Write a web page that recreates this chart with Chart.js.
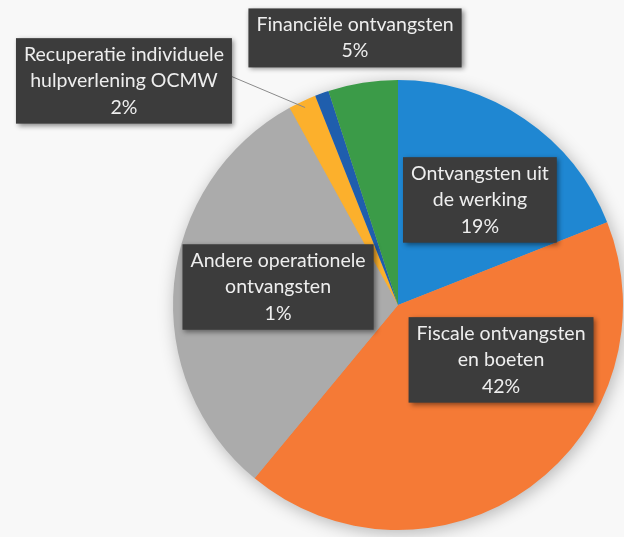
<!DOCTYPE html>
<html>
<head>
<meta charset="utf-8">
<script src="https://cdn.jsdelivr.net/npm/chart.js@4"></script>
<style>
  html, body { margin: 0; padding: 0; background: #f8f8f8; }
  #wrap { width: 624px; height: 537px; }
</style>
</head>
<body>
<div id="wrap"><canvas id="pieChart" width="624" height="537"></canvas></div>
<script>
// Data
const categories = [
    'Ontvangsten uit de werking',
    'Fiscale ontvangsten en boeten',
    '',
    'Recuperatie individuele hulpverlening OCMW',
    'Andere operationele ontvangsten',
    'Financiële ontvangsten'
];
const shares = [19, 42, 31, 2, 1, 5];
const sliceColors = ['#1f87d2', '#f57a36', '#ababab', '#fcb02c', '#1f5ead', '#3b9b48'];

// Label boxes: text lines, box centre relative to pie centre (in radius units)
const labelLines = [
    ['Ontvangsten uit', 'de werking', '19%'],
    ['Fiscale ontvangsten', 'en boeten', '42%'],
    null,
    ['Recuperatie individuele', 'hulpverlening OCMW', '2%'],
    ['Andere operationele', 'ontvangsten', '1%'],
    ['Financiële ontvangsten', '5%']
];
const labelSpots = [
    { x: 0.364, y: -0.467 },
    { x: 0.458, y: 0.244 },
    null,
    { x: -1.218, y: -0.996, leader: true },
    { x: -0.533, y: -0.08 },
    { x: -0.191, y: -1.187 }
];

const FONT = '19.5px Lato, "Open Sans", sans-serif';
const LINE_H = 26.5;

// Soft shadow behind the pie
const pieShadow = {
    id: 'pieShadow',
    beforeDatasetsDraw(chart) {
        const arc = chart.getDatasetMeta(0).data[0];
        const ctx = chart.ctx;
        ctx.save();
        ctx.shadowColor = 'rgba(0,0,0,0.3)';
        ctx.shadowBlur = 18;
        ctx.shadowOffsetX = 2;
        ctx.shadowOffsetY = 3;
        ctx.fillStyle = '#aaaaaa';
        ctx.beginPath();
        ctx.arc(arc.x, arc.y, arc.outerRadius - 1, 0, Math.PI * 2);
        ctx.fill();
        ctx.restore();
    }
};

// Dark callout boxes
const calloutLabels = {
    id: 'calloutLabels',
    afterDatasetsDraw(chart) {
        const meta = chart.getDatasetMeta(0);
        const ctx = chart.ctx;
        meta.data.forEach((arc, i) => {
            const lines = labelLines[i];
            const spot = labelSpots[i];
            if (!lines) return;
            const r = arc.outerRadius;
            const cx = arc.x + spot.x * r;
            const cy = arc.y + spot.y * r;
            ctx.save();
            ctx.font = FONT;
            const w = Math.max(...lines.map(t => ctx.measureText(t).width)) + 16;
            const h = lines.length * LINE_H + 6;
            const bx = cx - w / 2, by = cy - h / 2;

            if (spot.leader) {
                const mid = (arc.startAngle + arc.endAngle) / 2;
                ctx.strokeStyle = '#8a8a8a';
                ctx.lineWidth = 1;
                ctx.beginPath();
                ctx.moveTo(bx + w, by + h * 0.45);
                ctx.lineTo(arc.x + Math.cos(mid) * r * 0.97, arc.y + Math.sin(mid) * r * 0.97);
                ctx.stroke();
            }

            ctx.shadowColor = 'rgba(0,0,0,0.45)';
            ctx.shadowBlur = 5;
            ctx.shadowOffsetX = 2;
            ctx.shadowOffsetY = 2;
            ctx.fillStyle = '#3c3c3c';
            ctx.fillRect(bx, by, w, h);
            ctx.shadowColor = 'transparent';

            ctx.fillStyle = '#eeeeee';
            ctx.textAlign = 'center';
            ctx.textBaseline = 'middle';
            lines.forEach((t, k) => {
                ctx.fillText(t, cx, by + 3 + LINE_H * (k + 0.5));
            });
            ctx.restore();
        });
    }
};

function setupChart() {
    const ctx = document.getElementById('pieChart').getContext('2d');
    new Chart(ctx, {
        type: 'pie',
        data: {
            labels: categories,
            datasets: [{
                data: shares,
                backgroundColor: sliceColors,
                borderWidth: 0
            }]
        },
        options: {
            responsive: false,
            animation: false,
            layout: {
                padding: { top: 80, bottom: 7, left: 173, right: 1 }
            },
            plugins: {
                legend: { display: false },
                tooltip: { enabled: false }
            }
        },
        plugins: [pieShadow, calloutLabels]
    });
}

document.addEventListener('DOMContentLoaded', setupChart);
</script>
</body>
</html>
